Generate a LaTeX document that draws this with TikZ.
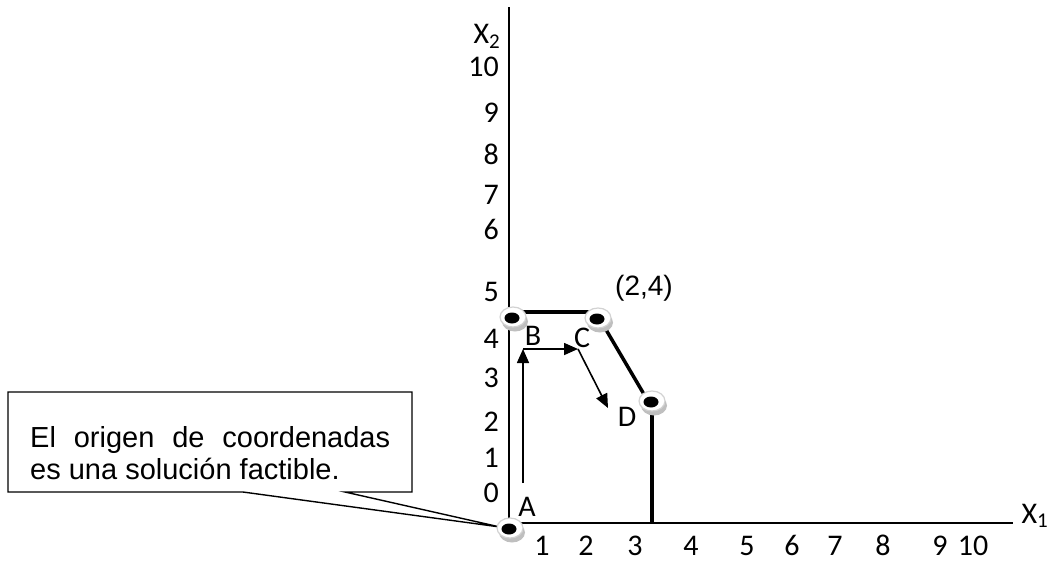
\documentclass[tikz,border=0pt]{standalone}
\usepackage{fontspec}
\setmainfont{Carlito}
\newfontfamily\arialfont{Liberation Sans}
\usetikzlibrary{arrows.meta,calc}
\newcommand\diskshape[1]{%
  \fill[gray!50] ($(#1)+(2,4.5)$) ellipse[x radius=13pt,y radius=10pt];
  \filldraw[fill=white,draw=gray!35,line width=1.2pt] (#1) ellipse[x radius=13pt,y radius=10pt];
  \fill[black] ($(#1)+(-1,1)$) ellipse[x radius=7.5pt,y radius=5.5pt];
}
\begin{document}
\begin{tikzpicture}[x=1pt,y=-1pt,
  lbl/.style={font=\fontsize{30}{32}\selectfont,inner sep=0pt},
  ylbl/.style={lbl,anchor=base east},
  xlbl/.style={lbl,anchor=base},
  axis/.style={line width=2pt},
  path/.style={line width=4.5pt},
  move/.style={line width=1.6pt,-{Triangle[length=14pt,width=12pt]}},
  callout/.style={draw,line width=1.4pt,fill=white}]
\useasboundingbox (0,0) rectangle (1048,560);
% coordinates
\coordinate (ytop) at (509,7);
\coordinate (orig) at (509,523);
\coordinate (xend) at (1013,523);
\coordinate (O) at (510,528);
\coordinate (B) at (513,317);
\coordinate (C) at (598,318);
\coordinate (D) at (652,401);
\coordinate (Bt) at (513,312);
\coordinate (Ct) at (592,312);
\coordinate (Cs) at (605,328);
\coordinate (Ds) at (645,396);
\coordinate (Dv) at (652,405);
\coordinate (Dg) at (652,523);
\coordinate (a1) at (523,483);
\coordinate (a2) at (523,349);
\coordinate (a3) at (578,349);
\coordinate (a4) at (608,408);
% callout
\draw[callout] (8,392) -- (412,392) -- (412,492) -- (345,492) -- (500,527) -- (243,492) -- (8,492) -- cycle;
\node[anchor=north west,inner sep=0pt,align=left,font=\arialfont\fontsize{29}{32}\selectfont] (note) at (30,426)
  {\makebox[360pt][s]{El origen de coordenadas}\\es una solución factible.};
% axes
\draw[axis] (ytop) -- (orig) -- (xend);
% feasible boundary
\draw[path] (Bt) -- (Ct);
\draw[line width=3.5pt] (Cs) -- (Ds);
\draw[path] (Dv) -- (Dg);
% moves
\draw[move] (a1) -- (a2);
\draw[move] (a2) -- (a3);
\draw[move] (a3) -- (a4);
% disks
\diskshape{O}
\diskshape{B}
\diskshape{C}
\diskshape{D}
% axis labels
\node[lbl,anchor=base] (X2) at (487,43) {X\textsubscript{2}};
\node[lbl,anchor=base] (X1) at (1035,523) {X\textsubscript{1}};
\node[ylbl] (y10) at (499,76) {10};
\node[ylbl] (y9) at (499,122) {9};
\node[ylbl] (y8) at (499,164) {8};
\node[ylbl] (y7) at (499,204) {7};
\node[ylbl] (y6) at (499,239) {6};
\node[ylbl] (y5) at (499,301) {5};
\node[ylbl] (y4) at (499,348) {4};
\node[ylbl] (y3) at (499,387) {3};
\node[ylbl] (y2) at (499,431) {2};
\node[ylbl] (y1) at (499,467) {1};
\node[ylbl] (y0) at (499,502) {0};
\node[xlbl] (x1) at (542,555) {1};
\node[xlbl] (x2) at (586,555) {2};
\node[xlbl] (x3) at (635,555) {3};
\node[xlbl] (x4) at (691,555) {4};
\node[xlbl] (x5) at (747,555) {5};
\node[xlbl] (x6) at (792,555) {6};
\node[xlbl] (x7) at (835,555) {7};
\node[xlbl] (x8) at (883,555) {8};
\node[xlbl] (x9) at (940,555) {9};
\node[xlbl] (x10) at (973,555) {10};
% point labels
\node[lbl,anchor=base] (lA) at (527,516) {A};
\node[lbl,anchor=base] (lB) at (533,345) {B};
\node[lbl,anchor=base] (lC) at (582,347) {C};
\node[lbl,anchor=base] (lD) at (627,426) {D};
\node[inner sep=0pt,font=\arialfont\fontsize{28}{30}\selectfont] (p24) at (644,288) {(2,4)};
\end{tikzpicture}
\end{document}
